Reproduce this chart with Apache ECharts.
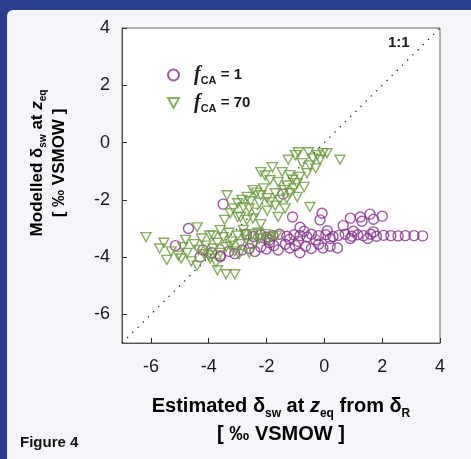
<!DOCTYPE html>
<html>
<head>
<meta charset="utf-8">
<script src="https://cdn.jsdelivr.net/npm/echarts@6/dist/echarts.min.js"></script>
<style>
  html, body { margin: 0; padding: 0; background: #2c3f8e; }
  #chart { width: 471px; height: 459px; }
</style>
</head>
<body>
<div id="chart"></div>
<script>
// f_CA = 1 (purple circles)
const fca1 = [
  [-2.7,-3.2],[-2.45,-3.28],[-2.2,-3.22],[-2.0,-3.3],[-1.78,-3.25],[-1.55,-3.2],[-1.3,-3.27],
  [-1.05,-3.22],[-0.84,-3.25],[-0.6,-3.3],[-0.45,-3.2],[-0.2,-3.25],[0.05,-3.22],[0.3,-3.28],
  [0.5,-3.24],[0.72,-3.2],[0.95,-3.27],[1.15,-3.22],[1.35,-3.25],[1.6,-3.2],[1.8,-3.27],
  [2.05,-3.24],[2.3,-3.25],[2.55,-3.26],[2.8,-3.25],[3.1,-3.25],[3.4,-3.26],
  [-1.9,-3.4],[-1.2,-3.38],[-0.3,-3.4],[0.2,-3.35],[0.9,-3.35],[1.5,-3.35],
  [-0.7,-3.1],[0.1,-3.08],[1.0,-3.1],[1.7,-3.12],
  [-4.2,-3.75],[-3.9,-3.85],[-3.6,-3.95],[-3.3,-3.8],[-3.1,-3.88],[-2.85,-3.75],[-2.6,-3.7],
  [-2.4,-3.8],[-2.2,-3.65],[-2.0,-3.72],[-1.75,-3.6],[-1.6,-3.75],[-1.35,-3.55],[-1.2,-3.68],
  [-1.0,-3.6],[-0.85,-3.85],[-0.65,-3.62],[-0.45,-3.7],[-0.2,-3.55],[-0.05,-3.68],[0.2,-3.62],
  [0.45,-3.68],[-2.5,-3.52],[-1.9,-3.5],[-0.9,-3.45],
  [-4.7,-3.0],[-3.5,-2.15],[-1.43,-1.8],[-1.1,-2.6],[-0.84,-2.96],[-0.08,-2.47],[-0.15,-2.7],
  [0.65,-2.9],[0.9,-2.64],[1.24,-2.6],[1.58,-2.5],[2.0,-2.57],[1.3,-2.75],[1.7,-2.68],
  [-5.15,-3.6],[-4.3,-4.0],[-3.6,-3.99]
];

// f_CA = 70 (green triangles)
const fca70 = [
  [-6.17,-3.3],[-5.7,-3.7],[-5.45,-4.1],[-5.3,-3.8],[-5.05,-3.95],[-4.9,-3.65],[-4.75,-3.85],
  [-4.6,-4.15],[-4.5,-3.55],[-4.35,-3.75],[-4.25,-3.35],[-4.1,-3.6],[-3.95,-4.05],[-3.85,-3.25],
  [-3.7,-3.5],[-3.6,-3.85],[-3.5,-3.3],[-3.4,-3.65],[-3.3,-3.15],[-3.2,-3.45],[-3.1,-3.8],
  [-3.0,-3.25],[-2.9,-3.55],[-2.8,-3.05],[-2.7,-3.4],[-2.6,-3.85],[-2.5,-3.2],[-2.4,-3.5],
  [-2.25,-3.35],[-2.05,-3.2],[-1.85,-3.3],[-1.65,-3.25],[-4.8,-3.4],[-4.0,-3.95],[-3.75,-4.2],
  [-4.4,-4.3],[-3.7,-4.46],[-3.4,-4.6],[-3.1,-4.6],[-4.4,-2.96],[-3.96,-3.24],[-3.6,-3.06],
  [-3.37,-1.84],[-3.0,-2.12],[-2.8,-2.26],[-3.26,-2.47],[-2.9,-2.6],[-2.47,-2.65],[-2.68,-2.7],
  [-3.0,-2.6],[-2.67,-1.9],[-2.47,-1.66],[-2.2,-1.84],[-1.98,-1.94],[-1.7,-1.77],[-1.19,-1.77],
  [-0.94,-1.9],[-0.5,-2.25],[-1.98,-2.38],[-1.88,-2.08],[-1.55,-2.0],[-1.36,-2.3],[-2.25,-2.1],
  [-2.2,-1.03],[-1.8,-0.86],[-1.46,-1.03],[-1.19,-1.14],[-1.88,-1.31],[-1.6,-1.38],[-1.29,-1.5],
  [-0.95,-1.42],[-0.85,-1.2],[-0.9,-0.34],[-0.55,-0.34],[-0.25,-0.44],[-0.05,-0.37],[-1.0,-0.44],
  [-0.77,-0.72],[-0.5,-0.8],[-0.6,-1.07],[0.09,-0.37],[0.54,-0.6],[-2.85,-2.0],[-2.6,-2.3],
  [-2.1,-1.6],[-1.4,-1.65],[-1.1,-1.3],[-0.7,-1.55],[-0.3,-0.9],[-2.35,-2.45],[-1.7,-2.2],
  [-1.6,-2.6],[-2.2,-2.85],[-3.15,-2.3],[-2.55,-2.05],[-2.35,-1.75],[-1.3,-1.95],[-1.05,-1.6],
  [-0.4,-0.55],[-0.15,-0.6],[-1.25,-0.6],[-2.05,-1.15],[-3.45,-2.7],[-2.75,-3.2],[-1.95,-3.4],
  [-5.55,-3.5],[-4.95,-4.05],[-4.15,-3.9],[-3.85,-3.7],[-3.25,-3.6],[-2.95,-3.9],[-2.3,-3.15]
];

// 1:1 reference line
const oneToOne = [[-7, -7], [4, 4]];

const xTicks = [-6, -4, -2, 0, 2, 4];
const yTicks = [-6, -4, -2, 0, 2, 4];

const legendText = {
  'fCA = 1': '{f|f}{s|CA}{t| = 1}',
  'fCA = 70': '{f|f}{s|CA}{t| = 70}'
};

const chart = echarts.init(document.getElementById('chart'));

const sansBold = { fontFamily: 'Liberation Sans, Arial, sans-serif', fontWeight: 'bold', color: '#1a1a1a' };

chart.setOption({
  backgroundColor: '#2c3f8e',
  animation: false,
  grid: {
    left: 122, top: 28, width: 318, height: 315,
    show: true, backgroundColor: '#ffffff', borderColor: '#666', borderWidth: 1
  },
  xAxis: {
    type: 'value', min: -7, max: 4,
    axisLine: { show: true, onZero: false, lineStyle: { color: '#555' } },
    axisTick: { show: true, inside: true, length: 5, customValues: xTicks, lineStyle: { color: '#333' } },
    axisLabel: { customValues: xTicks, margin: 15, fontSize: 18, color: '#1a1a1a', fontFamily: 'Liberation Sans, Arial, sans-serif' },
    splitLine: { show: false }
  },
  yAxis: {
    type: 'value', min: -7, max: 4,
    axisLine: { show: true, onZero: false, lineStyle: { color: '#555' } },
    axisTick: { show: true, inside: true, length: 5, customValues: yTicks, lineStyle: { color: '#333' } },
    axisLabel: { customValues: yTicks, margin: 12, fontSize: 18, color: '#1a1a1a', fontFamily: 'Liberation Sans, Arial, sans-serif' },
    splitLine: { show: false }
  },
  legend: {
    orient: 'vertical', left: 162, top: 60, itemGap: 7,
    itemWidth: 11, itemHeight: 11,
    data: [
      { name: 'fCA = 1', icon: 'circle' },
      { name: 'fCA = 70', icon: 'path://M0,0 L10,0 L5,9 Z' }
    ],
    formatter: name => legendText[name],
    textStyle: {
      rich: {
        f: { fontFamily: 'Liberation Serif, Times New Roman, serif', fontStyle: 'italic', fontWeight: 'bold', fontSize: 20, color: '#1a1a1a', lineHeight: 22, padding: [0, 0, 0, 10] },
        s: { fontFamily: 'Liberation Sans, Arial, sans-serif', fontWeight: 'bold', fontSize: 11, color: '#1a1a1a', verticalAlign: 'bottom', lineHeight: 10 },
        t: { fontFamily: 'Liberation Sans, Arial, sans-serif', fontWeight: 'bold', fontSize: 15, color: '#1a1a1a', lineHeight: 22 }
      }
    }
  },
  graphic: [
    {
      type: 'rect', z: -10, silent: true,
      shape: { x: 7, y: 10, width: 464, height: 449, r: [6, 0, 0, 0] },
      style: { fill: '#f4f6f9' }
    },
    {
      type: 'text', left: 388, top: 35, z: 10,
      style: { text: '1:1', font: 'bold 15px Liberation Sans, Arial, sans-serif', fill: '#1a1a1a' }
    },
    {
      type: 'text', z: 10, x: 281, y: 420,
      style: {
        text: '{a|Estimated δ}{s|sw}{a| at }{i|z}{s|eq}{a| from δ}{s|R}\n{a|[ ‰ VSMOW ]}',
        align: 'center', verticalAlign: 'middle',
        rich: {
          a: Object.assign({ fontSize: 20, lineHeight: 28 }, sansBold),
          i: Object.assign({}, sansBold, { fontSize: 20, lineHeight: 28, fontStyle: 'italic' }),
          s: Object.assign({ fontSize: 12, lineHeight: 12, verticalAlign: 'bottom' }, sansBold)
        }
      }
    },
    {
      type: 'text', z: 10, x: 48, y: 163, rotation: Math.PI / 2,
      style: {
        text: '{a|Modelled δ}{s|sw}{a| at }{i|z}{s|eq}\n{a|[ ‰ VSMOW ]}',
        align: 'center', verticalAlign: 'middle',
        rich: {
          a: Object.assign({ fontSize: 17, lineHeight: 22 }, sansBold),
          i: Object.assign({}, sansBold, { fontSize: 17, lineHeight: 22, fontStyle: 'italic' }),
          s: Object.assign({ fontSize: 10, lineHeight: 10, verticalAlign: 'bottom' }, sansBold)
        }
      }
    },
    {
      type: 'text', left: 20, top: 435, z: 10,
      style: { text: 'Figure 4', font: 'bold 15px Liberation Sans, Arial, sans-serif', fill: '#111' }
    }
  ],
  series: [
    {
      name: '1:1', type: 'line', data: oneToOne, symbol: 'none', silent: true, z: 1,
      lineStyle: { color: '#222', width: 1.3, type: [1.3, 6] }
    },
    {
      name: 'fCA = 1', type: 'scatter', data: fca1, symbol: 'circle', symbolSize: 10,
      itemStyle: { color: 'rgba(255,255,255,0)', borderColor: '#86308f', borderWidth: 1.4 }
    },
    {
      name: 'fCA = 70', type: 'scatter', data: fca70, symbol: 'triangle', symbolRotate: 180,
      symbolSize: [10, 9],
      itemStyle: { color: 'rgba(255,255,255,0)', borderColor: '#6a9a3a', borderWidth: 1.4 }
    }
  ]
});
</script>
</body>
</html>
